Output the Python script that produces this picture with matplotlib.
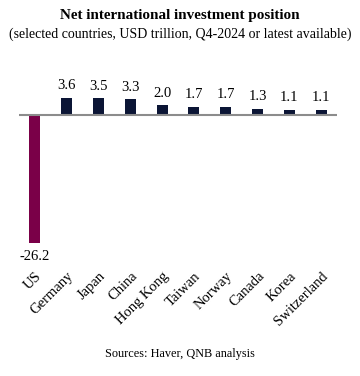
import numpy as np
import matplotlib.pyplot as plt

countries = ["US", "Germany", "Japan", "China", "Hong Kong", "Taiwan",
             "Norway", "Canada", "Korea", "Switzerland"]
values = [-26.2, 3.6, 3.5, 3.3, 2.0, 1.7, 1.7, 1.3, 1.1, 1.1]

plt.rcParams['font.family'] = ['Liberation Serif', 'DejaVu Serif']

fig = plt.figure(figsize=(3.6, 3.76), dpi=100)
ax = fig.add_axes([19 / 360, 1 - 268 / 376, 318 / 360, 188 / 376])

x = np.arange(len(countries))
colors = ["#7a0048"] + ["#0b1535"] * (len(countries) - 1)
ax.bar(x, values, width=0.35, color=colors, zorder=2)
ax.axhline(0, color="#8c8c8c", linewidth=1.5, zorder=3)

for xi, v in zip(x, values):
    if v >= 0:
        ax.text(xi, v + 1.1, f"{v:.1f}", ha="center", va="bottom", fontsize=10.5)
    else:
        ax.text(xi, v - 1.4, f"{v:.1f}", ha="center", va="top", fontsize=10.5)

ax.set_xlim(-0.5, len(countries) - 0.5)
ax.set_ylim(-31.3, 7.2)
ax.set_xticks(x)
ax.set_xticklabels(countries, rotation=45, ha="right", rotation_mode="anchor",
                   fontsize=10.5)
ax.tick_params(axis="x", length=0, pad=1)
ax.set_yticks([])
for s in ax.spines.values():
    s.set_visible(False)

fig.text(0.5, 1 - 16 / 376, "Net international investment position",
         ha="center", va="center", fontsize=10.9, fontweight="bold")
fig.text(0.5, 1 - 34 / 376,
         "(selected countries, USD trillion, Q4-2024 or latest available)",
         ha="center", va="center", fontsize=10)
fig.text(0.5, 1 - 354 / 376, "Sources: Haver, QNB analysis",
         ha="center", va="center", fontsize=8.8)

fig.savefig("out.png", dpi=100)
